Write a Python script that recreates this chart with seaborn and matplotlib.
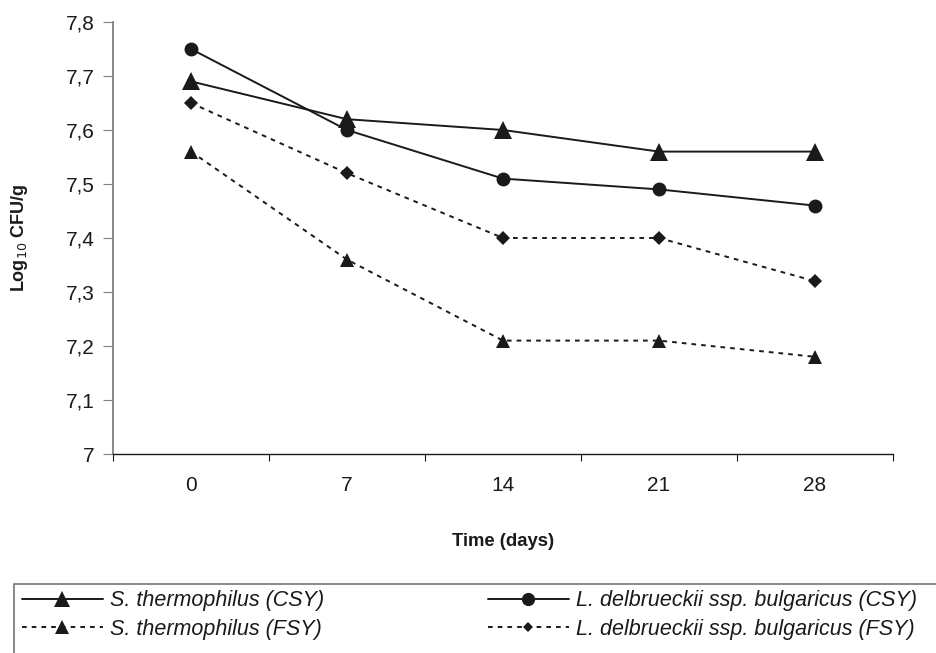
import matplotlib
matplotlib.use("Agg")
import matplotlib.pyplot as plt
import seaborn as sns
import pandas as pd
from matplotlib.lines import Line2D
from matplotlib.patches import Rectangle

days = ["0", "7", "14", "21", "28"]
st_csy = [7.69, 7.62, 7.60, 7.56, 7.56]
lb_csy = [7.75, 7.60, 7.51, 7.49, 7.46]
st_fsy = [7.56, 7.36, 7.21, 7.21, 7.18]
lb_fsy = [7.65, 7.52, 7.40, 7.40, 7.32]
yticks = [7.0, 7.1, 7.2, 7.3, 7.4, 7.5, 7.6, 7.7, 7.8]
ytick_labels = ["7", "7,1", "7,2", "7,3", "7,4", "7,5", "7,6", "7,7", "7,8"]

sns.set_style("white")
plt.rcParams["font.family"] = ["Liberation Sans", "DejaVu Sans"]

W, H = 936, 653
fig = plt.figure(figsize=(W / 100, H / 100), dpi=100)
ax = fig.add_axes([113 / W, 1 - 454 / H, (893 - 113) / W, (454 - 22) / H])

INK = "#1a1a1a"
DOT = (0, (2.4, 2.6))
pos = list(range(len(days)))
series = [
    ("S. thermophilus (CSY)", st_csy, "^", "-", 13, 11),
    ("L. delbrueckii ssp. bulgaricus (CSY)", lb_csy, "o", "-", 10, 9.5),
    ("S. thermophilus (FSY)", st_fsy, "^", DOT, 10, 10),
    ("L. delbrueckii ssp. bulgaricus (FSY)", lb_fsy, "D", DOT, 6.8, 5.5),
]
handles = {}
for name, vals, mk, ls, ms, lms in series:
    df = pd.DataFrame({"x": pos, "y": vals})
    sns.lineplot(data=df, x="x", y="y", ax=ax, color=INK, marker=mk,
                 markersize=ms, markeredgewidth=0, linestyle=ls, linewidth=1.4,
                 legend=False)
    handles[name] = Line2D([], [], color=INK, marker=mk, markersize=lms,
                           markeredgewidth=0, linestyle=ls, linewidth=1.4,
                           label=name)

ax.set_xlim(-0.5, len(days) - 0.5)
ax.set_ylim(7.0, 7.8)
ax.set_yticks(yticks)
ax.set_yticklabels(ytick_labels)
ax.set_xticks([i - 0.5 for i in range(len(days) + 1)])
ax.set_xticklabels([])
ax.set_xticks(pos, minor=True)
ax.set_xticklabels(days, minor=True)
ax.tick_params(axis="x", which="minor", length=0, pad=16, labelsize=15, colors=INK)
ax.tick_params(axis="x", which="major", length=5, direction="out", bottom=True, color=INK)
ax.tick_params(axis="y", length=7, direction="out", left=True, labelsize=15,
               labelcolor=INK, color="#808080", pad=6)

for s in ["top", "right"]:
    ax.spines[s].set_visible(False)
ax.spines["left"].set_color("#808080")
ax.spines["left"].set_linewidth(1.3)
ax.spines["bottom"].set_color(INK)
ax.spines["bottom"].set_linewidth(1.0)

ax.set_xlabel("Time (days)", fontsize=13.3, fontweight="bold", color=INK)
ax.xaxis.set_label_coords(0.5, -(533 - 454) / (454 - 22))
ax.set_ylabel("Log$_{10}$ CFU/g", fontsize=13, fontweight="bold", color=INK)
ax.yaxis.set_label_coords(-(113 - 30) / (893 - 113), 0.5)

order = ["S. thermophilus (CSY)", "S. thermophilus (FSY)",
         "L. delbrueckii ssp. bulgaricus (CSY)", "L. delbrueckii ssp. bulgaricus (FSY)"]
fs = 15.5
leg = fig.legend(handles=[handles[k] for k in order], loc="upper left", ncol=2,
                 bbox_to_anchor=(15.5 / W, 1 - 584 / H),
                 bbox_transform=fig.transFigure,
                 prop={"style": "italic", "size": fs},
                 handlelength=3.75, handletextpad=0.35, frameon=False,
                 borderpad=0.3, labelspacing=0.35, columnspacing=7.6,
                 borderaxespad=0)
for t in leg.get_texts():
    t.set_color(INK)

fig.patches.append(Rectangle((14 / W, -0.2), 1.1, (1 - 584 / H) + 0.2,
                             transform=fig.transFigure, fill=False,
                             edgecolor="#808080", linewidth=1.3))

fig.savefig("out.png", dpi=100)
